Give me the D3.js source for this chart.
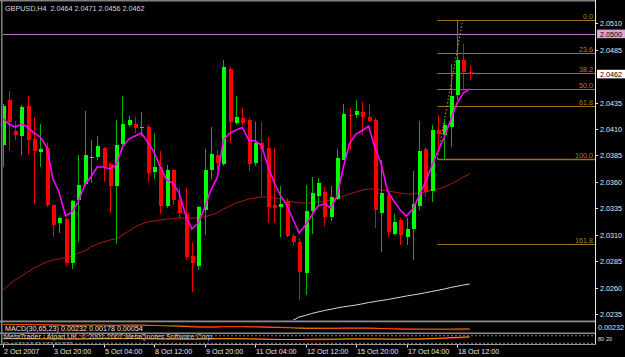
<!DOCTYPE html>
<html>
<head>
<meta charset="utf-8">
<script src="https://cdn.jsdelivr.net/npm/d3@7"></script>
<style>
  body { margin: 0; background: #000; }
  svg text { font-family: "Liberation Sans", Arial, sans-serif; font-size: 7.2px; }
</style>
</head>
<body>
<svg id="chart" width="625" height="357"></svg>
<script>
// GBPUSD H4 candles
var open  = [2.0395,2.0437,2.0408,2.0403,2.0432,2.0401,2.0388,2.0392,2.0338,2.0321,2.0325,2.0283,2.0343,2.0358,2.0383,2.0384,2.0392,2.0377,2.0356,2.0396,
             2.0414,2.0415,2.0411,2.0412,2.0369,2.0374,2.0337,2.0371,2.0343,2.0330,2.0290,2.0280,2.0333,2.0371,2.0385,2.0377,2.0467,2.0416,2.0420,2.0419,
             2.0378,2.0397,2.0392,2.0338,2.0336,2.0342,2.0309,2.0303,2.0274,2.0332,2.0347,2.0350,2.0327,2.0344,2.0381,2.0423,2.0423,2.0426,2.0421,2.0419,
             2.0331,2.0348,2.0311,2.0324,2.0308,2.0315,2.0337,2.0391,2.0351,2.0409,2.0404,2.0412,2.0442,2.0475,2.0464];
var high  = [2.0434,2.0446,2.0418,2.0433,2.0441,2.0421,2.0415,2.0397,2.0339,2.0327,2.0326,2.0343,2.0385,2.0427,2.0400,2.0403,2.0393,2.0379,2.0419,2.0441,
             2.0422,2.0421,2.0426,2.0414,2.0405,2.0389,2.0376,2.0372,2.0354,2.0354,2.0303,2.0337,2.0391,2.0412,2.0390,2.0475,2.0469,2.0441,2.0430,2.0420,
             2.0417,2.0417,2.0402,2.0392,2.0356,2.0345,2.0311,2.0307,2.0357,2.0365,2.0364,2.0355,2.0356,2.0391,2.0434,2.0430,2.0437,2.0436,2.0434,2.0420,
             2.0381,2.0352,2.0330,2.0326,2.0326,2.0370,2.0418,2.0393,2.0414,2.0423,2.0419,2.0472,2.0513,2.0490,2.0471];
var low   = [2.0374,2.0389,2.0400,2.0385,2.0385,2.0339,2.0374,2.0336,2.0308,2.0312,2.0280,2.0278,2.0303,2.0356,2.0359,2.0381,2.0360,2.0331,2.0301,2.0390,
             2.0412,2.0406,2.0403,2.0360,2.0363,2.0330,2.0335,2.0338,2.0326,2.0286,2.0256,2.0277,2.0310,2.0363,2.0371,2.0375,2.0397,2.0414,2.0414,2.0370,
             2.0375,2.0346,2.0321,2.0321,2.0308,2.0308,2.0300,2.0248,2.0253,2.0311,2.0338,2.0318,2.0323,2.0343,2.0381,2.0390,2.0420,2.0404,2.0417,2.0316,
             2.0294,2.0308,2.0310,2.0300,2.0300,2.0286,2.0333,2.0346,2.0341,2.0387,2.0382,2.0393,2.0437,2.0446,2.0456];
var close = [2.0432,2.0417,2.0404,2.0431,2.0400,2.0389,2.0391,2.0338,2.0319,2.0326,2.0283,2.0342,2.0357,2.0385,2.0384,2.0394,2.0374,2.0356,2.0395,2.0415,
             2.0419,2.0411,2.0412,2.0368,2.0374,2.0337,2.0371,2.0343,2.0331,2.0289,2.0283,2.0336,2.0371,2.0386,2.0378,2.0469,2.0417,2.0421,2.0416,2.0377,
             2.0397,2.0391,2.0336,2.0335,2.0339,2.0309,2.0303,2.0275,2.0332,2.0349,2.0359,2.0327,2.0346,2.0383,2.0424,2.0422,2.0427,2.0421,2.0418,2.0333,
             2.0349,2.0313,2.0322,2.0310,2.0315,2.0339,2.0389,2.0350,2.0409,2.0405,2.0414,2.0441,2.0475,2.0464,2.0462];

// moving averages
var maFast = [2.04204,2.04147,2.04119,2.04147,2.04119,2.04062,2.04024,2.03930,2.03627,2.03495,2.03277,2.03315,2.03410,2.03570,2.03646,2.03741,2.03741,2.03722,2.03760,2.03930,
              2.04005,2.04034,2.04062,2.03977,2.03882,2.03741,2.03618,2.03589,2.03495,2.03287,2.03154,2.03211,2.03353,2.03523,2.03637,2.03996,2.04062,2.04091,2.04114,2.03996,
              2.03987,2.03949,2.03760,2.03599,2.03476,2.03381,2.03249,2.03116,2.03192,2.03287,2.03372,2.03395,2.03353,2.03466,2.03741,2.03968,2.04053,2.04086,2.04128,2.03920,
              2.03769,2.03514,2.03419,2.03334,2.03277,2.03343,2.03466,2.03599,2.03750,2.03892,2.04024,2.04185,2.04346,2.04441,2.04479];
var maSlow = [2.02568,2.02624,2.02672,2.02709,2.02747,2.02785,2.02814,2.02842,2.02861,2.02870,2.02880,2.02899,2.02927,2.02946,2.02984,2.03012,2.03031,2.03050,2.03060,2.03097,
              2.03135,2.03173,2.03201,2.03220,2.03230,2.03239,2.03249,2.03249,2.03258,2.03258,2.03258,2.03258,2.03268,2.03287,2.03305,2.03343,2.03372,2.03400,2.03419,2.03438,
              2.03447,2.03457,2.03457,2.03447,2.03438,2.03419,2.03410,2.03400,2.03400,2.03400,2.03410,2.03419,2.03428,2.03447,2.03466,2.03485,2.03504,2.03523,2.03532,2.03532,
              2.03523,2.03514,2.03504,2.03495,2.03485,2.03485,2.03495,2.03504,2.03523,2.03532,2.03551,2.03580,2.03608,2.03646,2.03674];
var maLongStart = 45;
var maLong = [2.02255,2.02289,2.02322,2.02336,2.02355,2.02369,2.02383,2.02394,2.02407,2.02418,2.02426,2.02435,2.02446,2.02458,2.02468,
              2.02478,2.02486,2.02498,2.02509,2.02520,2.02530,2.02539,2.02551,2.02563,2.02574,2.02586,2.02601,2.02612,2.02624,2.02634];

// lower windows
var macdMain = [0.0051,0.0051,0.0050,0.0050,0.0050,0.0049,0.0049,0.0048,0.0047,0.0046,0.0045,0.0045,0.0045,0.0046,0.0046,0.0046,0.0046,0.0045,0.0045,0.0046,
                0.0046,0.0046,0.0046,0.0045,0.0044,0.0043,0.0042,0.0041,0.0040,0.0038,0.0036,0.0035,0.0035,0.0035,0.0035,0.0037,0.0037,0.0037,0.0037,0.0036,
                0.0036,0.0035,0.0034,0.0033,0.0032,0.0031,0.0030,0.0028,0.0027,0.0027,0.0027,0.0027,0.0027,0.0027,0.0028,0.0028,0.0028,0.0028,0.0028,0.0027,
                0.0026,0.0025,0.0024,0.0023,0.0022,0.0022,0.0022,0.0022,0.0022,0.0022,0.0022,0.0022,0.0023,0.0023,0.00232];
var macdSignal = [0.0049,0.0049,0.0049,0.0049,0.0049,0.0049,0.0049,0.0048,0.0048,0.0048,0.0047,0.0047,0.0047,0.0046,0.0046,0.0046,0.0046,0.0046,0.0046,0.0046,
                  0.0046,0.0046,0.0046,0.0046,0.0045,0.0045,0.0044,0.0044,0.0043,0.0042,0.0041,0.0040,0.0039,0.0038,0.0038,0.0038,0.0037,0.0037,0.0037,0.0037,
                  0.0037,0.0036,0.0036,0.0035,0.0034,0.0034,0.0033,0.0032,0.0031,0.0030,0.0030,0.0029,0.0029,0.0028,0.0028,0.0028,0.0028,0.0028,0.0028,0.0028,
                  0.0027,0.0027,0.0026,0.0025,0.0024,0.0023,0.0022,0.0021,0.0020,0.0019,0.0019,0.0018,0.0018,0.0018,0.00178];
var stochMain = [58,58,57,57,56,56,56,55,55,55,54,54,55,55,56,56,57,57,57,58,58,58,57,56,55,55,54,54,53,53,53,54,55,56,57,57,57,56,56,55,
                 54,53,52,51,50,50,50,50,51,52,53,53,53,53,54,55,55,55,55,54,54,53,53,53,53,54,55,56,58,60,62,65,67,69,71.1];
var stochSignal = [55,55,55,55,55,55,55,55,55,55,55,54,54,54,54,54,55,55,55,55,56,56,56,56,56,55,55,55,54,54,53,53,53,53,54,54,55,55,55,55,
                   55,54,53,52,51,50,49,48,47,47,47,48,49,50,51,52,52,52,52,52,52,52,52,52,52,52,52,53,54,55,57,59,61,63,66.3];

// axes (2.0460 sits under the bid box, so it is left out)
var priceTicks = [2.0510,2.0485,2.0435,2.0410,2.0385,2.0360,2.0335,2.0310,2.0285,2.0260,2.0235];
var timeTickBars = [0,8,16,24,32,40,48,56,64,72];
var timeLabels = ["2 Oct 2007","3 Oct 20:00","5 Oct 04:00","8 Oct 12:00","9 Oct 20:00","11 Oct 04:00","12 Oct 12:00","15 Oct 20:00","17 Oct 04:00","18 Oct 12:00"];
var stochLevels = [80, 20];

// fibonacci + lines
var fibLevels = [0, 23.6, 38.2, 50, 61.8, 100, 161.8];
var fibHigh = 2.0513, fibLow = 2.0382;
var fibBars = [68.9, 72.9];
var hLinePrice = 2.0500;
var bidPrice = 2.0462;

var svg = d3.select("#chart");
var W = 625, axisX = 595;

var x = d3.scaleLinear().domain([0, 74]).range([2.5, 2.5 + 74 * 6.3125]);
var y = d3.scaleLinear().domain([2.02293, 2.05302]).range([320, 2]);
var yMacd = d3.scaleLinear().domain([0.0005, 0.0065]).range([332, 322]);
var yStoch = d3.scaleLinear().domain([0, 100]).range([345.8, 333.2]);

svg.append("rect").attr("width", W).attr("height", 357).attr("fill", "#000");

var defs = svg.append("defs");
defs.append("clipPath").attr("id", "mainClip").append("rect").attr("x", 3).attr("y", 2).attr("width", axisX - 3).attr("height", 318);
defs.append("clipPath").attr("id", "macdClip").append("rect").attr("x", 3).attr("y", 322).attr("width", axisX - 3).attr("height", 10.5);
defs.append("clipPath").attr("id", "stochClip").append("rect").attr("x", 3).attr("y", 334).attr("width", axisX - 3).attr("height", 9.6);

var main = svg.append("g").attr("clip-path", "url(#mainClip)");

// horizontal line 2.0500
main.append("line").attr("x1", 0).attr("x2", axisX).attr("y1", Math.round(y(hLinePrice)) + 0.5).attr("y2", Math.round(y(hLinePrice)) + 0.5)
  .attr("stroke", "#b57bb5").attr("stroke-width", 1.2);

// fibonacci
var fibX0 = x(fibBars[0]);
fibLevels.forEach(function(l) {
  var p = fibHigh - (fibHigh - fibLow) * l / 100;
  var yy = Math.round(y(p)) + 0.5;
  main.append("line").attr("x1", fibX0).attr("x2", axisX).attr("y1", yy).attr("y2", yy)
    .attr("stroke", "#9a7418").attr("stroke-width", l == 100 ? 1.4 : 1);
  main.append("text").attr("x", 593).attr("y", yy - 1.5).attr("text-anchor", "end")
    .attr("fill", "#a8801e").text(l.toFixed(1));
});
main.append("line").attr("x1", x(fibBars[0])).attr("y1", y(fibLow)).attr("x2", x(fibBars[1])).attr("y2", y(fibHigh))
  .attr("stroke", "#d09a30").attr("stroke-width", 1).attr("stroke-dasharray", "1.5,2");

// moving averages
var line = function(arr, start) {
  return d3.line().x(function(d, i) { return x(i + start); }).y(function(d) { return y(d); })(arr);
};
main.append("path").attr("d", line(maLong, maLongStart)).attr("fill", "none").attr("stroke", "#d8d8d8").attr("stroke-width", 1);
main.append("path").attr("d", line(maSlow, 0)).attr("fill", "none").attr("stroke", "#b01414").attr("stroke-width", 1);

// candles
var candles = main.append("g").attr("shape-rendering", "crispEdges");
d3.range(open.length).forEach(function(i) {
  var bull = close[i] >= open[i];
  var cx = Math.round(x(i));
  candles.append("line").attr("x1", cx + 0.5).attr("x2", cx + 0.5).attr("y1", y(high[i])).attr("y2", y(low[i]))
    .attr("stroke", bull ? "#00b400" : "#f00000").attr("stroke-width", 1);
  var top = y(Math.max(open[i], close[i])), bot = y(Math.min(open[i], close[i]));
  candles.append("rect").attr("x", cx - 1.5).attr("width", 4).attr("y", top).attr("height", Math.max(1, bot - top))
    .attr("fill", bull ? "#00ff00" : "#ff0000");
});

main.append("path").attr("d", line(maFast, 0)).attr("fill", "none").attr("stroke", "#ff00ff").attr("stroke-width", 1.6);

// frame and separators
svg.append("rect").attr("x", 0).attr("y", 0).attr("width", axisX).attr("height", 1.5).attr("fill", "#808080");
svg.append("rect").attr("x", 1).attr("y", 0).attr("width", 1.5).attr("height", 344.5).attr("fill", "#808080");
svg.append("rect").attr("x", 0).attr("y", 320.5).attr("width", axisX).attr("height", 1.8).attr("fill", "#8a8a8a");
svg.append("rect").attr("x", 0).attr("y", 332.5).attr("width", axisX).attr("height", 1.6).attr("fill", "#8a8a8a");
svg.append("rect").attr("x", 0).attr("y", 344).attr("width", axisX).attr("height", 1).attr("fill", "#9a9a9a");
stochLevels.forEach(function(v) {
  svg.append("line").attr("x1", 3).attr("x2", axisX).attr("y1", yStoch(v)).attr("y2", yStoch(v))
    .attr("stroke", "#a0a0a0").attr("stroke-width", 0.8).attr("stroke-dasharray", "2,2");
});
svg.append("line").attr("x1", axisX + 0.5).attr("x2", axisX + 0.5).attr("y1", 0).attr("y2", 344.5)
  .attr("stroke", "#e8e8e8").attr("stroke-width", 1);

// MACD window
var gm = svg.append("g").attr("clip-path", "url(#macdClip)");
var lm = function(sc) { return d3.line().x(function(d, i) { return x(i); }).y(function(d) { return sc(d); }); };
gm.append("path").attr("d", lm(yMacd)(macdMain)).attr("fill", "none").attr("stroke", "#ffa000").attr("stroke-width", 1);
gm.append("path").attr("d", lm(yMacd)(macdSignal)).attr("fill", "none").attr("stroke", "#ff1010").attr("stroke-width", 1).attr("stroke-dasharray", "2,1");
gm.append("text").attr("x", 5).attr("y", 330.8).attr("fill", "#e8e8e8").text("MACD(30,65,23) 0.00232 0.00178 0.00054");

// second window
var gs = svg.append("g").attr("clip-path", "url(#stochClip)");
gs.append("path").attr("d", lm(yStoch)(stochSignal)).attr("fill", "none").attr("stroke", "#c80000").attr("stroke-width", 1);
gs.append("path").attr("d", lm(yStoch)(stochMain)).attr("fill", "none").attr("stroke", "#ffa000").attr("stroke-width", 1);
gs.append("text").attr("x", 4).attr("y", 339).attr("fill", "#c8c8c8").text("MetaTrader - Alpari UK, \u00a9 2001-2007 MetaQuotes Software Corp.");
gs.append("text").attr("x", 4).attr("y", 346.3).attr("fill", "#b0b0b0").style("font-size", "5px").text("Stoch(30,3,3) 71.1153 66.3155");

// price axis
priceTicks.forEach(function(p) {
  var yy = Math.round(y(p)) + 0.5;
  svg.append("line").attr("x1", axisX + 1).attr("x2", axisX + 3).attr("y1", yy).attr("y2", yy).attr("stroke", "#e8e8e8");
  svg.append("text").attr("x", 600).attr("y", yy + 2.6).attr("fill", "#e8e8e8").text(p.toFixed(4));
});
function priceBox(p, bg) {
  var yy = y(p);
  svg.append("rect").attr("x", 597).attr("y", yy - 4.3).attr("width", 28).attr("height", 8.6).attr("fill", bg);
  svg.append("text").attr("x", 600).attr("y", yy + 2.6).attr("fill", "#000").text(p.toFixed(4));
}
priceBox(hLinePrice, "#d9a6d9");
priceBox(bidPrice, "#ffffff");

// lower window scale labels
svg.append("text").attr("x", 598).attr("y", 330).attr("fill", "#e0e0e0").text("0.00232");
stochLevels.forEach(function(v, k) {
  svg.append("text").attr("x", 598 + k * 8).attr("y", 340.5).attr("fill", "#e0e0e0").style("font-size", "5.5px").text(v);
});

// time axis
timeTickBars.forEach(function(b, k) {
  var xx = Math.round(x(b)) + 0.5;
  svg.append("line").attr("x1", xx).attr("x2", xx).attr("y1", 345).attr("y2", 347.5).attr("stroke", "#e8e8e8");
  svg.append("text").attr("x", xx + 0.5).attr("y", 353.6).attr("fill", "#e8e8e8").text(timeLabels[k]);
});

// header
svg.append("text").attr("x", 5).attr("y", 10.5).attr("fill", "#d8d8d8").attr("xml:space", "preserve")
  .text("GBPUSD,H4  " + [open[74], high[74], low[74], close[74]].map(function(v) { return v.toFixed(4); }).join(" "));
</script>
</body>
</html>
